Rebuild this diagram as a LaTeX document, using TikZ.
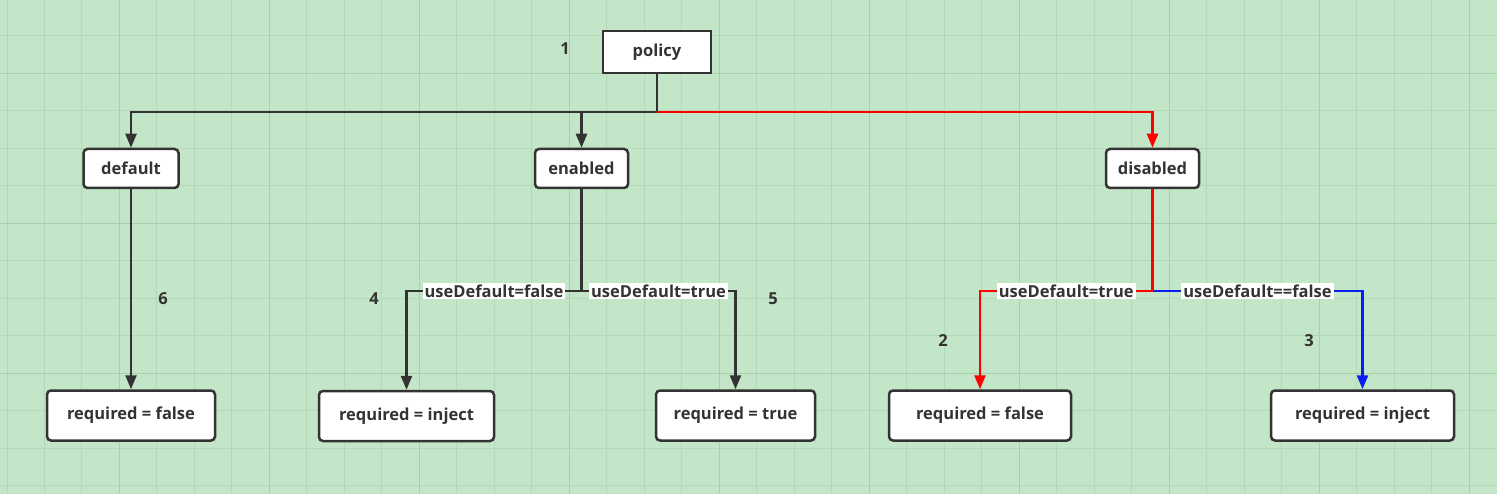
\documentclass[tikz,border=0pt]{standalone}
\usepackage{fontspec}
\setmainfont{Open Sans}
\usetikzlibrary{arrows.meta,positioning}

\definecolor{bggreen}{HTML}{C2E6C7}
\definecolor{gridminor}{HTML}{B3D9B8}
\definecolor{gridmajor}{HTML}{A6CFAC}
\definecolor{linedark}{HTML}{333333}
\definecolor{linered}{HTML}{FF0000}
\definecolor{lineblue}{HTML}{0A1EF0}

\begin{document}
\begin{tikzpicture}[
    x=1pt, y=-1pt,
    box/.style={draw=linedark, line width=2.5pt, fill=white, rounded corners=4pt, minimum height=50pt, align=center, font=\fontsize{16.5}{19}\selectfont\bfseries, text=linedark, inner sep=0pt},
    sbox/.style={box, minimum height=39pt},
    edge/.style={draw=linedark, line width=2.5pt, -{Triangle[length=14pt,width=11pt]}},
    cond/.style={fill=white, inner sep=2pt, font=\fontsize{16.5}{19}\selectfont\bfseries, text=linedark},
    num/.style={font=\fontsize{16.5}{19}\selectfont\bfseries, text=linedark},
]

% Background and grid
\useasboundingbox (0,0) rectangle (1497,494);
\fill[bggreen] (0,0) rectangle (1497,494);
\foreach \i in {0,...,39} {
    \draw[gridminor, line width=1pt] (7+37.49*\i,0) -- (7+37.49*\i,494);
}
\foreach \j in {1,...,13} {
    \draw[gridminor, line width=1pt] (0,-1.5+37.49*\j) -- (1497,-1.5+37.49*\j);
}
\foreach \i in {3,7,...,39} {
    \draw[gridmajor, line width=1pt] (7+37.49*\i,0) -- (7+37.49*\i,494);
}
\foreach \j in {2,6,10} {
    \draw[gridmajor, line width=1pt] (0,-1.5+37.49*\j) -- (1497,-1.5+37.49*\j);
}

% Top level
\node[box, rounded corners=0pt, minimum width=108pt, minimum height=42pt] (policy) at (657,52) {policy};

% Second level
\node[sbox, minimum width=95pt] (default) at (131,168.5) {default};
\node[sbox, minimum width=93pt] (enabled) at (581.5,168.5) {enabled};
\node[sbox, minimum width=93pt] (disabled) at (1152.5,168.5) {disabled};

% Leaves
\node[box, minimum width=168pt] (reqfalseA) at (131,415.5) {required = false};
\node[box, minimum width=175pt] (reqinjectA) at (406.5,416) {required = inject};
\node[box, minimum width=159pt] (reqtrue) at (735.5,415.5) {required = true};
\node[box, minimum width=182pt] (reqfalseB) at (980,415.5) {required = false};
\node[box, minimum width=183pt] (reqinjectB) at (1362.5,415.5) {required = inject};

% Junctions
\coordinate (jtop) at (657,112);
\coordinate (jen) at (581.5,291);
\coordinate (jdis) at (1152.5,291);

% policy -> second level
\draw[edge, -] (policy.south) -- (jtop);
\draw[edge] (jtop) -| (default.north);
\draw[edge] (jtop) -| (enabled.north);
\draw[edge, draw=linered] (jtop) -| (disabled.north);

% default
\draw[edge] (default.south) -- (reqfalseA.north);

% enabled
\draw[edge, -] (enabled.south) -- (jen);
\draw[edge] (jen) -| node[cond, pos=0.25] (cfalse) {useDefault=false} (reqinjectA.north);
\draw[edge] (jen) -| node[cond, pos=0.25] (ctrue) {useDefault=true} (reqtrue.north);

% disabled
\draw[edge, -, draw=linered] (disabled.south) -- (jdis);
\draw[edge, draw=linered] (jdis) -| node[cond, pos=0.25] (dtrue) {useDefault=true} (reqfalseB.north);
\draw[edge, draw=lineblue] (jdis) -| node[cond, pos=0.25] (dfalse) {useDefault==false} (reqinjectB.north);

% Step numbers
\node[num] (n1) at (565,49) {1};
\node[num] (n2) at (943,341) {2};
\node[num] (n3) at (1309,341) {3};
\node[num] (n4) at (374,299) {4};
\node[num] (n5) at (773,299) {5};
\node[num] (n6) at (163,299) {6};

\end{tikzpicture}
\end{document}
